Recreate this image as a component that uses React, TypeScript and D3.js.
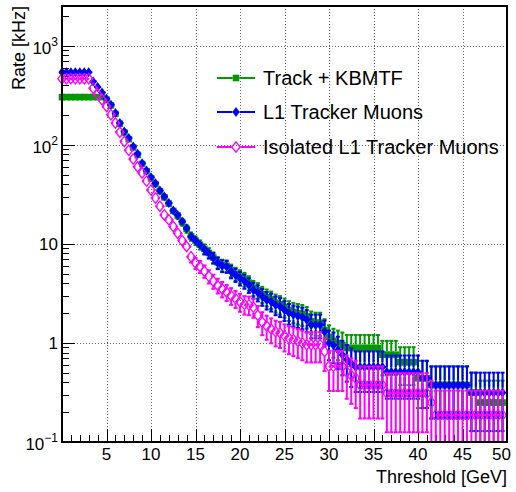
import React, { useEffect, useRef } from 'react'
import * as d3 from 'd3'

// bin centres of the threshold scan, 0.5 GeV steps
const thresholds = d3.range(0, 50, 0.5)

const trackKbmtf = [
  303, 303, 303, 303, 303, 303, 303, 303, 303, 303,
  285, 250, 205, 163, 133, 114, 94, 79, 64, 54,
  46, 40, 34, 29.5, 25.5, 21.5, 19.3, 16.6, 14.2, 11.9,
  10.8, 9.8, 8.9, 8.1, 7.3, 6.5, 6.1, 6.0, 5.4, 5.0,
  4.7, 4.4, 4.05, 3.6, 3.4, 3.1, 2.9, 2.75, 2.55, 2.45,
  2.3, 2.15, 2.05, 2.0, 1.95, 1.85, 1.65, 1.6, 1.6, 1.35,
  1.15, 1.05, 1.0, 0.95, 0.89, 0.89, 0.89, 0.89, 0.89, 0.89,
  0.89, 0.89, 0.76, 0.76, 0.76, 0.76, 0.64, 0.64, 0.64, 0.64,
  0.44, 0.44, 0.44, 0.376, 0.376, 0.376, 0.376, 0.376, 0.376, 0.376,
  0.376, 0.376, 0.315, 0.315, 0.25, 0.25, 0.25, 0.25, 0.25, 0.25,
]

const tkMuons = [
  540, 540, 540, 540, 540, 540, 540, 436, 383, 337,
  292, 254, 209, 166, 136, 117, 96, 81, 65, 55,
  47, 41, 34.5, 30, 25.8, 21.7, 19.6, 16.8, 14.4, 11.9,
  10.8, 9.8, 8.8, 8.06, 7.2, 6.4, 6.0, 5.9, 5.25, 4.86,
  4.5, 4.2, 3.85, 3.43, 3.22, 2.94, 2.72, 2.61, 2.42, 2.33,
  2.15, 2.0, 1.92, 1.87, 1.82, 1.71, 1.52, 1.52, 1.52, 1.3,
  1.0, 0.95, 0.85, 0.76, 0.68, 0.62, 0.57, 0.57, 0.57, 0.57,
  0.57, 0.57, 0.57, 0.51, 0.51, 0.51, 0.51, 0.51, 0.51, 0.51,
  0.51, 0.44, 0.44, 0.376, 0.376, 0.376, 0.376, 0.376, 0.376, 0.376,
  0.376, 0.376, 0.315, 0.315, 0.315, 0.315, 0.315, 0.315, 0.315, 0.315,
]

const isoTkMuons = [
  464, 464, 464, 464, 464, 464, 464, 373, 324, 285,
  244, 201, 166, 134, 108, 88, 72, 60, 52, 43,
  35, 29, 24, 19.6, 17.5, 15, 12.8, 10.8, 9.4, 7.4,
  6.4, 5.9, 5.3, 4.7, 4.2, 3.8, 3.5, 3.25, 3.0, 2.8,
  2.6, 2.45, 2.42, 2.3, 1.9, 1.62, 1.48, 1.38, 1.3, 1.26,
  1.18, 1.12, 1.08, 1.04, 1.0, 0.96, 0.96, 0.96, 0.96, 0.82,
  0.58, 0.58, 0.58, 0.58, 0.51, 0.47, 0.44, 0.376, 0.376, 0.376,
  0.376, 0.376, 0.376, 0.31, 0.31, 0.31, 0.31, 0.31, 0.31, 0.31,
  0.31, 0.31, 0.31, 0.25, 0.187, 0.187, 0.187, 0.187, 0.187, 0.187,
  0.187, 0.187, 0.187, 0.187, 0.187, 0.187, 0.187, 0.187, 0.187, 0.187,
]

// rate carried by one event, for the sqrt(N) error bars
const unitRate = 0.11

const seriesNames = ['Track + KBMTF', 'L1 Tracker Muons', 'Isolated L1 Tracker Muons']
const xTickLabels = [5, 10, 15, 20, 25, 30, 35, 40, 45, 50]
const yDecades = [0.1, 1, 10, 100, 1000]
const yDecadeExp = ['−1', '', '', '2', '3']

type Marker = 'square' | 'diamond' | 'openDiamond'

// half width / half height of each marker
const markerSize: Record<Marker, [number, number]> = {
  square: [3.3, 3.3],
  diamond: [3.6, 5],
  openDiamond: [4.2, 5.2],
}

const App = () => {
  const svgRef = useRef<SVGSVGElement>(null)

  useEffect(() => {
    if (!svgRef.current) return
    const w = 516
    const h = 492
    const left = 62
    const right = 507
    const top = 6
    const bottom = 442
    const font = "'Liberation Sans', Arial, Helvetica, sans-serif"

    const x = d3.scaleLinear().domain([0, 50]).range([left, right])
    const y = d3.scaleLog().domain([0.1, 2518]).range([bottom, top])
    const halfBin = 0.25

    const series = [
      { name: seriesNames[0], values: trackKbmtf, color: '#009a00', marker: 'square' as Marker },
      { name: seriesNames[1], values: tkMuons, color: '#0000ff', marker: 'diamond' as Marker },
      { name: seriesNames[2], values: isoTkMuons, color: '#ff00ff', marker: 'openDiamond' as Marker },
    ]

    const svg = d3.select(svgRef.current)
    svg.selectAll('*').remove()
    svg.attr('width', w).attr('height', h).attr('viewBox', [0, 0, w, h].join(' '))

    svg.append('rect').attr('width', w).attr('height', h).attr('fill', '#fff')

    svg
      .append('clipPath')
      .attr('id', 'frame-clip')
      .append('rect')
      .attr('x', left)
      .attr('y', top)
      .attr('width', right - left)
      .attr('height', bottom - top)

    // grid
    const grid = svg.append('g').attr('stroke', '#666').attr('stroke-width', 1).attr('stroke-dasharray', '1,2')
    xTickLabels
      .filter((v) => v < 50)
      .forEach((v) => {
        const px = Math.round(x(v)) + 0.5
        grid.append('line').attr('x1', px).attr('x2', px).attr('y1', top).attr('y2', bottom)
      })
    yDecades
      .filter((v) => v > 0.1)
      .forEach((v) => {
        const py = Math.round(y(v)) + 0.5
        grid.append('line').attr('x1', left).attr('x2', right).attr('y1', py).attr('y2', py)
      })

    // axis ticks (ROOT style, pointing inward)
    const ticks = svg.append('g').attr('stroke', '#000').attr('stroke-width', 1)
    d3.range(0, 51, 1).forEach((v) => {
      const len = v % 5 === 0 ? 13 : 7
      const px = Math.round(x(v)) + 0.5
      ticks.append('line').attr('x1', px).attr('x2', px).attr('y1', bottom).attr('y2', bottom - len)
    })
    yDecades.forEach((d) => {
      d3.range(1, 10).forEach((m) => {
        const v = d * m
        if (v > 2518) return
        const len = m === 1 ? 13 : 7
        const py = Math.round(y(v)) + 0.5
        ticks.append('line').attr('x1', left).attr('x2', left + len).attr('y1', py).attr('y2', py)
      })
    })

    // data: error bars stop at the marker edge, like ROOT's E1 option
    const plot = svg.append('g')
    series.forEach((s) => {
      const [mw, mh] = markerSize[s.marker]
      const bars = plot.append('g').attr('clip-path', 'url(#frame-clip)').attr('stroke', s.color).attr('stroke-width', 2)
      const seg = (x1: number, y1: number, x2: number, y2: number) =>
        bars.append('line').attr('x1', x1).attr('y1', y1).attr('x2', x2).attr('y2', y2)
      s.values.forEach((v, i) => {
        const t = thresholds[i]
        const err = Math.sqrt(v * unitRate)
        const py = y(v)
        const hi = y(v + err)
        const lo = v - err > 0.1 ? y(v - err) : bottom + 10
        const px = x(t)
        seg(x(t - halfBin), py, px - mw, py)
        seg(px + mw, py, x(t + halfBin), py)
        if (py - hi > mh) {
          seg(px, hi, px, py - mh)
          seg(px - 2, hi, px + 2, hi)
        }
        if (lo - py > mh) {
          seg(px, py + mh, px, lo)
          seg(px - 2, lo, px + 2, lo)
        }
      })
      const marks = plot.append('g')
      s.values.forEach((v, i) => drawMarker(marks, s.marker, s.color, x(thresholds[i]), y(v)))
    })

    // frame
    svg
      .append('rect')
      .attr('x', left)
      .attr('y', top)
      .attr('width', right - left)
      .attr('height', bottom - top)
      .attr('fill', 'none')
      .attr('stroke', '#000')
      .attr('stroke-width', 2)

    // tick labels
    const labels = svg.append('g').attr('font-family', font).attr('font-size', 17).attr('fill', '#000')
    xTickLabels.forEach((v) => {
      labels
        .append('text')
        .attr('x', v === 50 ? x(v) - 5.5 : x(v))
        .attr('y', 460)
        .attr('text-anchor', 'middle')
        .text(v)
    })
    yDecades.forEach((v, i) => {
      const exp = yDecadeExp[i]
      const t = labels.append('text').attr('x', 58).attr('text-anchor', 'end')
      if (exp) {
        t.attr('y', y(v) + 8)
        t.append('tspan').text('10')
        t.append('tspan').attr('font-size', 12).attr('dy', -8).text(exp)
      } else {
        t.attr('y', y(v) + 6).text(v === 1 ? '1' : '10')
      }
    })

    // axis titles
    svg
      .append('text')
      .attr('font-family', font)
      .attr('font-size', 18)
      .attr('text-anchor', 'end')
      .attr('x', right)
      .attr('y', 483)
      .text('Threshold [GeV]')
    svg
      .append('text')
      .attr('font-family', font)
      .attr('font-size', 18)
      .attr('text-anchor', 'end')
      .attr('transform', `translate(25,${top}) rotate(-90)`)
      .text('Rate [kHz]')

    // legend
    const legend = svg.append('g')
    const rowY = [78, 112, 147]
    series.forEach((s, i) => {
      const ly = rowY[i]
      const [mw] = markerSize[s.marker]
      legend.append('line').attr('x1', 217).attr('x2', 236 - mw).attr('y1', ly).attr('y2', ly).attr('stroke', s.color).attr('stroke-width', 2)
      legend.append('line').attr('x1', 236 + mw).attr('x2', 255).attr('y1', ly).attr('y2', ly).attr('stroke', s.color).attr('stroke-width', 2)
      drawMarker(legend, s.marker, s.color, 236, ly)
      legend
        .append('text')
        .attr('x', 263)
        .attr('y', ly + 7)
        .attr('font-family', font)
        .attr('font-size', 20)
        .attr('fill', '#000')
        .text(s.name)
    })
  }, [])

  return (
    <svg ref={svgRef} style={{ position: 'absolute', left: 0, top: 0, display: 'block' }} />
  )
}

function drawMarker(
  g: d3.Selection<SVGGElement, unknown, null, undefined>,
  marker: Marker,
  color: string,
  cx: number,
  cy: number,
) {
  const [mw, mh] = markerSize[marker]
  if (marker === 'square') {
    g.append('rect').attr('x', cx - mw).attr('y', cy - mh).attr('width', 2 * mw).attr('height', 2 * mh).attr('fill', color)
  } else if (marker === 'diamond') {
    g.append('path')
      .attr('d', `M${cx},${cy - mh}L${cx + mw},${cy}L${cx},${cy + mh}L${cx - mw},${cy}Z`)
      .attr('fill', color)
  } else {
    g.append('path')
      .attr('d', `M${cx},${cy - mh}L${cx + mw},${cy}L${cx},${cy + mh}L${cx - mw},${cy}Z`)
      .attr('fill', 'none')
      .attr('stroke', color)
      .attr('stroke-width', 1.3)
  }
}

export default App
